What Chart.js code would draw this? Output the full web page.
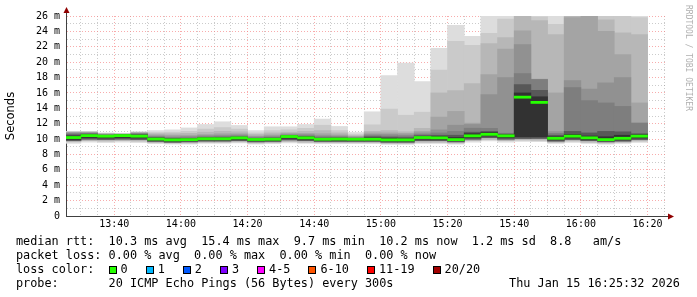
<!DOCTYPE html>
<html>
<head>
<meta charset="utf-8">
<script src="https://cdn.jsdelivr.net/npm/chart.js@4/dist/chart.umd.min.js"></script>
<style>
  body { margin: 0; background: #fff; }
  #wrap { position: relative; width: 697px; height: 297px; overflow: hidden; }
  #plot { position: absolute; left: 0; top: 0; width: 697px; height: 297px; }
  .legend { position: absolute; left: 16px; top: 233.6px; font: 11.83px 'DejaVu Sans Mono', monospace;
            line-height: 14.2px; color: #000; }
  .legend div { position: relative; height: 14.2px; white-space: pre; }
  .stamp { position: absolute; left: 0; top: 0; width: 664px; text-align: right; }
  .loss { display: inline-block; margin-right: 18px; }
  .box { display: inline-block; width: 6px; height: 6px; border: 1px solid #000; margin-right: 4px; vertical-align: -1px; }
  .side { position: absolute; left: 684px; top: 5px; writing-mode: vertical-rl; font: 8px 'DejaVu Sans Mono', monospace;
          line-height: 8px; color: #b0b0b0; white-space: pre; }
</style>
</head>
<body>
<div id="wrap">
  <div id="plot"><canvas id="chart"></canvas></div>
  <div class="side">RRDTOOL / TOBI OETIKER</div>
  <div class="legend"><div>median rtt:  10.3 ms avg  15.4 ms max  9.7 ms min  10.2 ms now  1.2 ms sd  8.8   am/s</div><div>packet loss: 0.00 % avg  0.00 % max  0.00 % min  0.00 % now</div><div id="lossLine">loss color:  </div><div>probe:       20 ICMP Echo Pings (56 Bytes) every 300s<span class="stamp">Thu Jan 15 16:25:32 2026</span></div></div>
</div>
<script>
// 5 minute slots (start time), 20 pings each
const slots = ['13:25','13:30','13:35','13:40','13:45','13:50','13:55',
  '14:00','14:05','14:10','14:15','14:20','14:25','14:30','14:35','14:40','14:45','14:50','14:55',
  '15:00','15:05','15:10','15:15','15:20','15:25','15:30','15:35','15:40','15:45','15:50','15:55',
  '16:00','16:05','16:10','16:15'];

// median rtt (ms)
const median = [10.2, 10.45, 10.38, 10.45, 10.38, 10.0, 9.9, 9.93, 10.04, 10.04, 10.15, 9.95, 9.98, 10.33, 10.16,
  9.98, 10.0, 9.98, 9.98, 9.9, 9.9, 10.2, 10.16, 9.93, 10.42, 10.62, 10.42, 15.45, 14.77, 10.1, 10.38, 10.16, 9.93, 10.1, 10.38];

// smoke: upper edges of the ping layers, outermost first (ms)
const smokeMax = [11.0, 11.0, 10.8, 10.7, 10.95, 11.1, 11.2, 11.45, 11.9, 12.25, 11.77, 11.1, 11.6, 11.6, 11.9,
  12.6, 11.64, 10.85, 13.55, 18.26, 19.87, 17.48, 21.8, 24.8, 23.36, 27, 27, 27, 27, 27, 27, 27, 27, 27, 27];
const hi2 = [10.95, 10.95, 10.75, 10.68, 10.9, 10.85, 10.9, 11.0, 11.3, 11.5, 11.3, 10.8, 11.1, 11.2, 11.4,
  11.8, 11.1, 10.6, 11.85, 13.9, 13.1, 13.5, 18.96, 22.7, 22.2, 23.75, 25.6, 26.8, 25.9, 24.93, 26.8, 26.8, 26.8, 26.0, 25.8];
const hi3 = [10.9, 10.9, 10.7, 10.66, 10.85, 10.7, 10.7, 10.75, 10.9, 11.0, 10.95, 10.6, 10.8, 10.9, 11.0,
  11.1, 10.8, 10.45, 11.0, 11.1, 10.95, 11.4, 16.0, 16.3, 17.2, 22.4, 23.2, 26.5, 25.4, 23.6, 26.5, 26.6, 25.5, 23.8, 23.6];
const hi4 = [10.85, 10.85, 10.65, 10.64, 10.8, 10.55, 10.5, 10.5, 10.6, 10.7, 10.7, 10.4, 10.55, 10.75, 10.75,
  10.7, 10.55, 10.35, 10.8, 10.8, 10.75, 11.0, 12.86, 13.6, 12.07, 18.4, 21.7, 24.06, 17.8, 16.0, 25.8, 26.4, 24.0, 21.0, 14.7];
const hi5 = [10.8, 10.8, 10.6, 10.62, 10.75, 10.4, 10.3, 10.35, 10.45, 10.5, 10.55, 10.3, 10.4, 10.6, 10.6,
  10.45, 10.4, 10.25, 10.6, 10.6, 10.55, 10.8, 11.2, 11.8, 11.9, 15.78, 18.0, 22.3, 17.78, 10.98, 17.6, 16.5, 17.3, 18.0, 12.1];
const hi6 = [10.7, 10.75, 10.55, 10.6, 10.7, 10.3, 10.2, 10.2, 10.3, 10.35, 10.4, 10.2, 10.25, 10.5, 10.45,
  10.3, 10.28, 10.18, 10.45, 10.4, 10.4, 10.6, 10.8, 11.0, 11.42, 11.4, 10.77, 18.5, 17.75, 10.75, 16.7, 15.0, 14.7, 14.25, 12.07];
const hi7 = [10.55, 10.65, 10.5, 10.57, 10.6, 10.2, 10.1, 10.1, 10.2, 10.22, 10.3, 10.1, 10.15, 10.45, 10.35,
  10.15, 10.17, 10.1, 10.3, 10.25, 10.2, 10.45, 10.5, 10.5, 10.9, 11.0, 10.65, 17.1, 16.34, 10.5, 11.0, 10.8, 11.0, 10.95, 10.7];
const coreHi = [10.4, 10.55, 10.45, 10.52, 10.5, 10.12, 10.0, 10.02, 10.12, 10.12, 10.22, 10.03, 10.06, 10.4, 10.25,
  10.06, 10.08, 10.04, 10.15, 10.1, 10.05, 10.3, 10.35, 10.2, 10.7, 10.85, 10.55, 16.0, 15.5, 10.3, 10.6, 10.4, 10.3, 10.5, 10.55];

// smoke: lower edges (ms)
const coreLo = [9.95, 10.2, 10.15, 10.2, 10.15, 9.85, 9.75, 9.8, 9.9, 9.9, 9.95, 9.8, 9.85, 10.1, 9.95,
  9.85, 9.85, 9.85, 9.85, 9.75, 9.75, 10.0, 9.95, 9.8, 10.2, 10.4, 10.2, 10.3, 10.3, 9.9, 10.15, 9.95, 9.8, 9.9, 10.15];
const lo4 = [9.8, 10.0, 9.95, 10.0, 9.95, 9.7, 9.6, 9.65, 9.75, 9.75, 9.8, 9.65, 9.7, 9.9, 9.8,
  9.7, 9.7, 9.7, 9.7, 9.6, 9.6, 9.8, 9.8, 9.65, 10.0, 10.2, 10.0, 10.1, 10.1, 9.75, 9.95, 9.8, 9.65, 9.75, 9.95];
const lo2 = [9.65, 9.8, 9.75, 9.8, 9.75, 9.55, 9.5, 9.5, 9.6, 9.6, 9.65, 9.5, 9.55, 9.7, 9.6,
  9.55, 9.55, 9.55, 9.55, 9.45, 9.45, 9.6, 9.6, 9.5, 9.8, 9.95, 9.8, 9.9, 9.85, 9.6, 9.75, 9.6, 9.5, 9.6, 9.75];
const smokeMin = [9.45, 9.6, 9.55, 9.6, 9.55, 9.4, 9.35, 9.35, 9.45, 9.45, 9.5, 9.35, 9.4, 9.5, 9.45,
  9.4, 9.4, 9.4, 9.4, 9.3, 9.3, 9.45, 9.45, 9.35, 9.6, 9.75, 9.6, 9.7, 9.65, 9.45, 9.55, 9.45, 9.35, 9.45, 9.55];

// axes
const viewStart = '13:25:32';
const viewEnd = '16:25:32';
const timeLabels = ['13:40', '14:00', '14:20', '14:40', '15:00', '15:20', '15:40', '16:00', '16:20'];
const rttLabels = ['0', '2 m', '4 m', '6 m', '8 m', '10 m', '12 m', '14 m', '16 m', '18 m', '20 m', '22 m', '24 m', '26 m'];

// loss legend
const lossBins = ['0', '1', '2', '3', '4-5', '6-10', '11-19', '20/20'];
const lossColors = ['#26ff00', '#00b8ff', '#0059ff', '#7e00ff', '#ff00ff', '#ff5500', '#ff0000', '#a10000'];

function toMin(t) {
    const p = t.split(':').map(Number);
    return p[0] * 60 + p[1] + (p[2] || 0) / 60;
}

const lossLine = document.getElementById('lossLine');
lossBins.forEach((label, i) => {
    const item = document.createElement('span');
    item.className = 'loss';
    const box = document.createElement('span');
    box.className = 'box';
    box.style.background = lossColors[i];
    item.appendChild(box);
    item.appendChild(document.createTextNode(label));
    lossLine.appendChild(item);
});

const slotMid = slots.map(s => toMin(s) + 2.5);
const floating = (lo, hi) => slotMid.map((x, i) => ({ x: x, y: [lo[i], hi[i]] }));

// outer layers first, so darker ones end up on top
const layers = [
    { lo: smokeMin, hi: smokeMax, color: '#dddddd' },
    { lo: lo2, hi: hi2, color: '#cacaca' },
    { lo: lo2, hi: hi3, color: '#b7b7b7' },
    { lo: lo4, hi: hi4, color: '#a4a4a4' },
    { lo: lo4, hi: hi5, color: '#919191' },
    { lo: lo4, hi: hi6, color: '#7e7e7e' },
    { lo: lo4, hi: hi7, color: '#585858' },
    { lo: coreLo, hi: coreHi, color: '#323232' }
];

const datasets = [{
    data: slotMid.map((x, i) => ({ x: x, y: [median[i] - 0.14, median[i] + 0.14] })),
    backgroundColor: lossColors[0]
}];
layers.slice().reverse().forEach(l => {
    datasets.push({ data: floating(l.lo, l.hi), backgroundColor: l.color });
});
datasets.forEach(d => {
    d.type = 'bar';
    d.grouped = false;
    d.barPercentage = 1;
    d.categoryPercentage = 1;
    d.borderWidth = 0;
    d.clip = 0;
});

const gridGray = 'rgba(140,140,140,0.45)';
const gridRed = 'rgba(245,128,128,0.65)';

// arrows at the axis ends
const axisArrows = {
    id: 'axisArrows',
    afterDraw(chart) {
        const { ctx, chartArea: a } = chart;
        const x0 = a.left + 0.5, y0 = a.bottom + 0.5;
        ctx.save();
        ctx.strokeStyle = '#404040';
        ctx.lineWidth = 1;
        ctx.beginPath();
        ctx.moveTo(a.right, y0); ctx.lineTo(a.right + 4, y0);
        ctx.moveTo(x0, a.top); ctx.lineTo(x0, a.top - 4);
        ctx.stroke();
        ctx.fillStyle = '#900000';
        ctx.beginPath();
        ctx.moveTo(a.right + 2, y0 - 3); ctx.lineTo(a.right + 8, y0); ctx.lineTo(a.right + 2, y0 + 3);
        ctx.closePath(); ctx.fill();
        ctx.beginPath();
        ctx.moveTo(x0 - 3, a.top - 3); ctx.lineTo(x0, a.top - 9); ctx.lineTo(x0 + 3, a.top - 3);
        ctx.closePath(); ctx.fill();
        ctx.restore();
    }
};

Chart.defaults.font.family = 'DejaVu Sans Mono';
Chart.defaults.color = '#000';

new Chart(document.getElementById('chart'), {
    type: 'bar',
    data: { datasets: datasets },
    options: {
        responsive: true,
        maintainAspectRatio: false,
        animation: false,
        layout: { padding: { top: 16, right: 31, left: 0, bottom: 0 } },
        plugins: { legend: { display: false }, tooltip: { enabled: false } },
        scales: {
            x: {
                type: 'linear',
                min: toMin(viewStart),
                max: toMin(viewEnd),
                offset: false,
                z: 1,
                afterBuildTicks: scale => {
                    const ticks = [];
                    for (let t = Math.ceil(scale.min / 5) * 5; t <= scale.max; t += 5) ticks.push({ value: t });
                    scale.ticks = ticks;
                },
                afterFit: scale => { scale.height = 81; },
                grid: {
                    offset: false,
                    drawTicks: false,
                    lineWidth: 1,
                    color: c => (c.tick && c.tick.value % 20 === 0) ? gridRed : gridGray
                },
                border: { display: true, color: '#404040', width: 1, dash: [1, 2] },
                ticks: {
                    autoSkip: false,
                    maxRotation: 0,
                    padding: 2,
                    font: { family: 'DejaVu Sans Mono', size: 10 },
                    color: '#000',
                    callback: value => {
                        const idx = timeLabels.findIndex(l => toMin(l) === value);
                        return idx >= 0 ? timeLabels[idx] : '';
                    }
                }
            },
            y: {
                min: 0,
                max: 26,
                z: 1,
                afterFit: scale => { scale.width = 66; },
                grid: {
                    drawTicks: false,
                    lineWidth: 1,
                    color: c => (c.tick && c.tick.value % 2 === 0) ? gridRed : gridGray
                },
                border: { display: true, color: '#404040', width: 1, dash: [1, 2] },
                title: {
                    display: true,
                    text: 'Seconds',
                    color: '#000',
                    font: { family: 'DejaVu Sans', size: 11.5 },
                    padding: { top: 4, bottom: 0 }
                },
                ticks: {
                    stepSize: 1,
                    autoSkip: false,
                    padding: 6,
                    font: { family: 'DejaVu Sans Mono', size: 10 },
                    color: '#000',
                    callback: value => value % 2 === 0 ? rttLabels[value / 2] : ''
                }
            }
        }
    },
    plugins: [axisArrows]
});
</script>
</body>
</html>
